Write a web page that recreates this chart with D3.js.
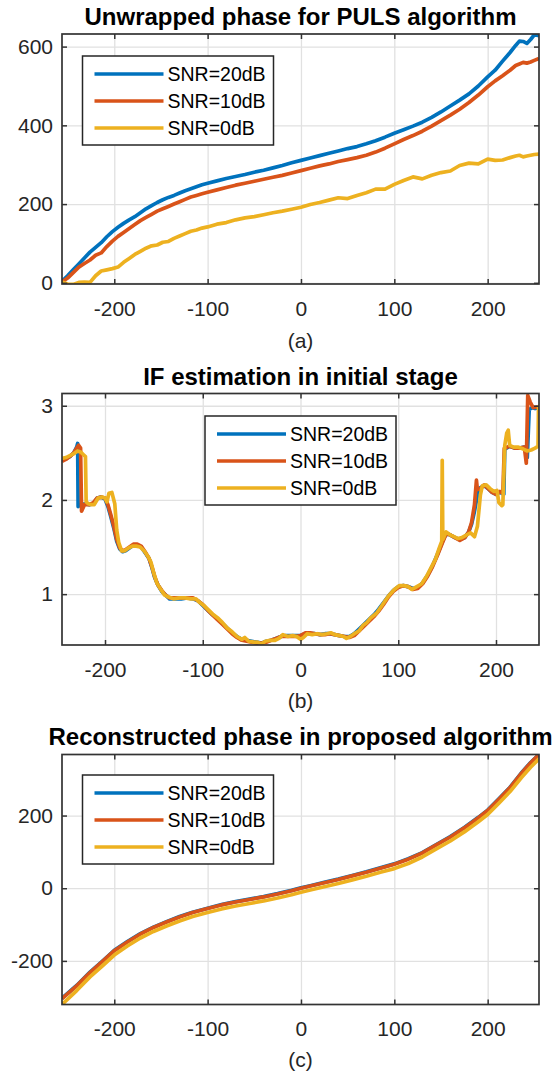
<!DOCTYPE html>
<html>
<head>
<meta charset="utf-8">
<script src="https://cdnjs.cloudflare.com/ajax/libs/d3/7.8.5/d3.min.js"></script>
<style>
body { margin: 0; background: #fff; }
svg text { font-family: "Liberation Sans", Arial, Helvetica, sans-serif; }
</style>
</head>
<body>
<svg width="555" height="1077"></svg>
<script>
// legend names and line colours (same for the three panels)
const snrNames = ["SNR=20dB", "SNR=10dB", "SNR=0dB"];
const snrColors = ["#0072BD", "#D95319", "#EDB120"];

// tick values
const xTicks = [-200, -100, 0, 100, 200];
const unwrapTicks = [0, 200, 400, 600];
const ifTicks = [1, 2, 3];
const recTicks = [-200, 0, 200];

// (a) unwrapped phase for PULS algorithm
const phaseX = [-256, -250, -244, -238, -232, -226, -220, -214, -208, -202, -196, -190, -184, -178, -172, -166, -160, -154, -148, -142, -136, -130, -124, -118, -112, -106, -100, -90, -80, -70, -60, -50, -40, -30, -20, -10, 0, 10, 20, 30, 40, 50, 60, 70, 80, 90, 100, 110, 120, 130, 140, 150, 160, 170, 180, 190, 200, 208, 216, 224, 230, 234, 238, 242, 246, 250, 255];
const unwrap20 = [4, 18, 33, 48, 63, 78, 90, 102, 117, 130, 141, 151, 160, 168, 178, 188, 196, 204, 211, 217, 222, 228, 234, 239, 244, 249, 253, 259, 265, 270, 275, 281, 286, 292, 298, 305, 311, 317, 323, 329, 335, 341, 346, 353, 361, 370, 380, 389, 398, 408, 420, 434, 449, 464, 480, 500, 523, 540, 563, 585, 603, 614, 613, 608, 618, 630, 628];
const unwrap10 = [2, 12, 26, 40, 49, 58, 70, 76, 92, 106, 118, 128, 138, 148, 158, 166, 174, 182, 188, 194, 200, 206, 212, 218, 222, 226, 230, 236, 242, 248, 253, 258, 263, 268, 273, 279, 285, 291, 297, 302, 308, 313, 318, 324, 332, 342, 353, 364, 374, 385, 398, 412, 426, 441, 458, 477, 498, 513, 526, 540, 552, 556, 560, 558, 561, 565, 570];
const unwrap0 = [2, -3, -4, 1, 2, 1, 18, 30, 33, 36, 40, 52, 62, 72, 80, 88, 94, 96, 103, 105, 113, 119, 125, 131, 134, 139, 142, 149, 153, 160, 165, 168, 173, 178, 182, 187, 192, 199, 204, 210, 216, 214, 222, 229, 238, 238, 250, 260, 269, 264, 273, 280, 284, 298, 304, 302, 314, 311, 312, 318, 322, 324, 320, 322, 324, 326, 327];

// (b) IF estimation in initial stage, [x, IF] points
const if20 = [[-244,2.42],[-240,2.44],[-236,2.46],[-232,2.50],[-229,2.56],[-228,2.60],[-227.5,1.93],[-225,1.95],[-220,1.96],[-216,1.95],[-212,1.96],[-208,2.02],[-204,2.03],[-200,2.01],[-197,1.93],[-194,1.82],[-191,1.70],[-188,1.56],[-185,1.48],[-182,1.45],[-179,1.46],[-175,1.49],[-171,1.52],[-167,1.52],[-163,1.50],[-159,1.44],[-155,1.38],[-152,1.28],[-149,1.17],[-146,1.10],[-142,1.03],[-138,0.99],[-134,0.95],[-128,0.95],[-122,0.95],[-116,0.96],[-110,0.95],[-105,0.93],[-100,0.88],[-95,0.83],[-90,0.78],[-85,0.74],[-80,0.69],[-75,0.64],[-70,0.59],[-65,0.55],[-60,0.52],[-55,0.51],[-50,0.50],[-45,0.49],[-40,0.48],[-35,0.50],[-30,0.51],[-25,0.53],[-20,0.55],[-15,0.56],[-10,0.56],[-5,0.56],[0,0.56],[5,0.58],[10,0.58],[15,0.58],[20,0.57],[25,0.58],[30,0.58],[35,0.57],[40,0.56],[45,0.55],[50,0.55],[55,0.58],[60,0.63],[65,0.68],[70,0.73],[75,0.78],[80,0.84],[85,0.91],[90,0.98],[95,1.04],[100,1.08],[105,1.09],[110,1.08],[115,1.06],[120,1.07],[125,1.12],[130,1.20],[135,1.30],[140,1.42],[145,1.55],[149,1.64],[153,1.63],[158,1.60],[163,1.58],[168,1.60],[172,1.66],[175,1.74],[178,1.88],[181,2.05],[184,2.13],[188,2.15],[192,2.12],[196,2.08],[200,2.06],[204,2.08],[208,2.06],[209,2.54],[214,2.57],[219,2.55],[224,2.55],[229,2.56],[232,2.45],[234,2.96],[237,2.98],[240,2.97],[244,2.98]];
const if10 = [[-244,2.41],[-240,2.43],[-236,2.46],[-232,2.50],[-229,2.55],[-227,2.58],[-225,2.55],[-224,1.88],[-221,1.95],[-216,1.95],[-212,1.97],[-208,2.02],[-204,2.03],[-200,2.02],[-197,1.95],[-194,1.84],[-191,1.72],[-188,1.58],[-185,1.49],[-182,1.46],[-179,1.47],[-175,1.50],[-171,1.53],[-167,1.53],[-163,1.51],[-159,1.45],[-155,1.38],[-152,1.29],[-149,1.18],[-146,1.10],[-142,1.04],[-138,0.99],[-134,0.96],[-128,0.96],[-122,0.96],[-116,0.96],[-110,0.96],[-105,0.93],[-100,0.89],[-95,0.83],[-90,0.78],[-85,0.73],[-80,0.68],[-75,0.63],[-70,0.58],[-65,0.54],[-60,0.51],[-55,0.50],[-50,0.49],[-45,0.48],[-40,0.48],[-35,0.49],[-30,0.51],[-25,0.53],[-20,0.55],[-15,0.55],[-10,0.55],[-5,0.55],[0,0.56],[5,0.59],[10,0.59],[15,0.58],[20,0.57],[25,0.57],[30,0.58],[35,0.57],[40,0.56],[45,0.55],[50,0.54],[55,0.56],[60,0.61],[65,0.66],[70,0.71],[75,0.76],[80,0.82],[85,0.89],[90,0.97],[95,1.03],[100,1.07],[105,1.09],[110,1.08],[115,1.05],[120,1.06],[125,1.11],[130,1.19],[135,1.29],[140,1.41],[145,1.54],[149,1.64],[153,1.63],[158,1.60],[163,1.57],[168,1.60],[172,1.66],[175,1.76],[178,1.95],[180,2.21],[181,2.11],[184,2.12],[188,2.16],[192,2.12],[196,2.08],[200,2.06],[204,2.09],[207,2.07],[208.5,2.55],[214,2.57],[219,2.55],[224,2.55],[229,2.56],[231,2.39],[232.5,3.11],[235,3.04],[238,2.98],[244,2.99]];
const if0 = [[-244,2.44],[-240,2.45],[-236,2.47],[-232,2.49],[-228,2.52],[-225,2.51],[-222,2.48],[-220,2.46],[-219.3,1.98],[-217,1.96],[-214,1.95],[-211,1.95],[-207,2.02],[-203,2.03],[-200,2.02],[-198,1.98],[-196,2.07],[-193,2.08],[-190,1.96],[-188,1.68],[-186,1.55],[-183,1.46],[-180,1.46],[-176,1.49],[-172,1.51],[-168,1.51],[-164,1.50],[-160,1.46],[-156,1.40],[-153,1.34],[-150,1.22],[-147,1.12],[-143,1.05],[-139,0.99],[-135,0.97],[-130,0.95],[-124,0.96],[-118,0.96],[-112,0.95],[-107,0.95],[-103,0.91],[-99,0.88],[-95,0.84],[-90,0.79],[-85,0.75],[-80,0.70],[-75,0.64],[-70,0.60],[-65,0.55],[-60,0.52],[-57,0.54],[-53,0.50],[-48,0.49],[-44,0.49],[-40,0.47],[-36,0.50],[-31,0.51],[-26,0.51],[-22,0.53],[-18,0.57],[-13,0.55],[-8,0.56],[-4,0.55],[0,0.52],[3,0.54],[7,0.58],[12,0.57],[17,0.58],[22,0.57],[27,0.58],[31,0.59],[35,0.57],[40,0.56],[44,0.55],[47,0.53],[51,0.55],[55,0.58],[60,0.61],[64,0.67],[68,0.70],[72,0.75],[78,0.80],[84,0.89],[90,0.98],[96,1.05],[101,1.09],[106,1.09],[110,1.08],[114,1.05],[119,1.08],[124,1.11],[129,1.19],[134,1.29],[138,1.37],[142,1.49],[144.5,1.56],[145,2.42],[145.6,1.58],[149,1.66],[153,1.63],[157,1.61],[161,1.59],[165,1.60],[170,1.63],[174,1.65],[178,1.61],[181,1.72],[184,2.05],[186,2.15],[190,2.16],[194,2.12],[198,2.09],[201,2.10],[203,1.97],[206,1.94],[207,1.95],[209,2.58],[211,2.71],[212.5,2.74],[214,2.58],[218,2.56],[223,2.56],[228,2.54],[232,2.52],[236,2.53],[240,2.55],[243,2.57],[243.5,2.99],[244,2.99]];

// (c) reconstructed phase in proposed algorithm
const recX = [-256, -240, -226, -212, -200, -186, -172, -158, -144, -130, -116, -100, -85, -70, -55, -40, -25, -10, 0, 10, 25, 40, 55, 70, 85, 100, 115, 130, 145, 160, 175, 190, 200, 212, 224, 236, 246, 255];
const rec20 = [-303, -267, -231, -199, -171, -147, -125, -107, -92, -78, -66, -55, -45, -37, -30, -23, -15, -6, 1, 7, 16, 25, 35, 45, 56, 67, 81, 98, 120, 142, 167, 195, 215, 246, 278, 317, 346, 368];
const rec10 = [-304, -268, -232, -200, -172, -148, -126, -108, -93, -79, -67, -56, -46, -38, -31, -24, -16, -7, 0, 6, 15, 24, 34, 44, 55, 66, 80, 97, 119, 141, 166, 194, 214, 245, 277, 316, 345, 368];
const rec0 = [-320, -281, -244, -212, -184, -159, -137, -119, -104, -90, -78, -67, -57, -49, -42, -35, -27, -18, -11, -5, 4, 13, 23, 33, 44, 54, 68, 86, 108, 130, 155, 183, 203, 234, 266, 304, 333, 356];

const svg = d3.select("svg");
const plotLeft = 62, plotRight = 539;
const zip = (xs, ys) => xs.map((v, i) => [v, ys[i]]);
const plainFmt = d => String(d); // matlab style labels: hyphen minus, no decimals

function drawPanel(p, idx) {
    const g = svg.append("g");
    const x = d3.scaleLinear().domain(p.xDomain).range([plotLeft, plotRight]);
    const y = d3.scaleLinear().domain(p.yDomain).range([p.bottom, p.top]);
    const h = p.bottom - p.top, w = plotRight - plotLeft;

    // grid lines
    g.append("g").attr("transform", `translate(0,${p.bottom})`)
        .call(d3.axisBottom(x).tickValues(xTicks).tickSize(-h).tickFormat(""))
        .call(a => a.select(".domain").remove())
        .selectAll("line").attr("stroke", "#e1e1e1").attr("stroke-width", 1.3);
    g.append("g").attr("transform", `translate(${plotLeft},0)`)
        .call(d3.axisLeft(y).tickValues(p.yTicks).tickSize(-w).tickFormat(""))
        .call(a => a.select(".domain").remove())
        .selectAll("line").attr("stroke", "#e1e1e1").attr("stroke-width", 1.3);

    // data lines, clipped to the axes box
    g.append("clipPath").attr("id", "clip" + idx)
        .append("rect").attr("x", plotLeft).attr("y", p.top).attr("width", w).attr("height", h);
    const line = d3.line().x(d => x(d[0])).y(d => y(d[1]));
    g.append("g").attr("clip-path", `url(#clip${idx})`)
        .selectAll("path").data(p.series).join("path")
        .attr("d", d => line(d))
        .attr("fill", "none")
        .attr("stroke", (d, i) => snrColors[i])
        .attr("stroke-width", 3.7)
        .attr("stroke-linejoin", "round");

    // box and inward ticks on all four sides
    const tick = 5;
    const sides = [
        [d3.axisBottom(x).tickValues(xTicks), `translate(0,${p.bottom})`],
        [d3.axisTop(x).tickValues(xTicks), `translate(0,${p.top})`],
        [d3.axisLeft(y).tickValues(p.yTicks), `translate(${plotLeft},0)`],
        [d3.axisRight(y).tickValues(p.yTicks), `translate(${plotRight},0)`]
    ];
    sides.forEach(([ax, tr]) => {
        g.append("g").attr("transform", tr)
            .call(ax.tickSize(-tick).tickSizeOuter(0).tickFormat(""))
            .call(a => a.select(".domain").remove())
            .selectAll("line").attr("stroke", "#333").attr("stroke-width", 1.5);
    });
    g.append("rect")
        .attr("x", plotLeft).attr("y", p.top).attr("width", w).attr("height", h)
        .attr("fill", "none").attr("stroke", "#333").attr("stroke-width", 1.7);

    // tick labels
    g.append("g").attr("transform", `translate(0,${p.bottom})`)
        .call(d3.axisBottom(x).tickValues(xTicks).tickSize(0).tickPadding(17).tickFormat(plainFmt))
        .call(a => a.select(".domain").remove())
        .selectAll("text").attr("font-size", 21).attr("fill", "#262626")
        .attr("font-family", "Liberation Sans, Arial, sans-serif");
    g.append("g").attr("transform", `translate(${plotLeft},0)`)
        .call(d3.axisLeft(y).tickValues(p.yTicks).tickSize(0).tickPadding(9).tickFormat(plainFmt))
        .call(a => a.select(".domain").remove())
        .selectAll("text").attr("font-size", 21).attr("fill", "#262626")
        .attr("font-family", "Liberation Sans, Arial, sans-serif");

    // title and sub label
    g.append("text")
        .attr("x", (plotLeft + plotRight) / 2).attr("y", p.titleY)
        .attr("text-anchor", "middle").attr("font-size", 24).attr("font-weight", "bold")
        .attr("fill", "#000").text(p.title);
    g.append("text")
        .attr("x", (plotLeft + plotRight) / 2).attr("y", p.labelY)
        .attr("text-anchor", "middle").attr("font-size", 21).attr("fill", "#262626")
        .text(p.label);

    // legend
    const lg = g.append("g").attr("transform", `translate(${p.legend[0]},${p.legend[1]})`);
    lg.append("rect").attr("width", 191).attr("height", 89)
        .attr("fill", "#fff").attr("stroke", "#262626").attr("stroke-width", 1.5);
    snrNames.forEach((name, i) => {
        const ry = 18 + i * 27;
        lg.append("line").attr("x1", 12).attr("x2", 81).attr("y1", ry).attr("y2", ry)
            .attr("stroke", snrColors[i]).attr("stroke-width", 3.7);
        lg.append("text").attr("x", 85).attr("y", ry + 7)
            .attr("font-size", 19.5).attr("fill", "#000").text(name);
    });
}

const panels = [
    {
        title: "Unwrapped phase for PULS algorithm", label: "(a)",
        top: 34, bottom: 284, titleY: 25, labelY: 348,
        xDomain: [-256, 255], yDomain: [-3, 632], yTicks: unwrapTicks,
        series: [zip(phaseX, unwrap20), zip(phaseX, unwrap10), zip(phaseX, unwrap0)],
        legend: [82.5, 56]
    },
    {
        title: "IF estimation in initial stage", label: "(b)",
        top: 393.5, bottom: 645, titleY: 385, labelY: 708,
        xDomain: [-244, 244], yDomain: [0.46, 3.13], yTicks: ifTicks,
        series: [if20, if10, if0],
        legend: [205, 416]
    },
    {
        title: "Reconstructed phase in proposed algorithm", label: "(c)",
        top: 754.5, bottom: 1004.5, titleY: 745, labelY: 1067,
        xDomain: [-256, 255], yDomain: [-320, 368], yTicks: recTicks,
        series: [zip(recX, rec20), zip(recX, rec10), zip(recX, rec0)],
        legend: [82.5, 775]
    }
];

panels.forEach((p, i) => drawPanel(p, i));
</script>
</body>
</html>
